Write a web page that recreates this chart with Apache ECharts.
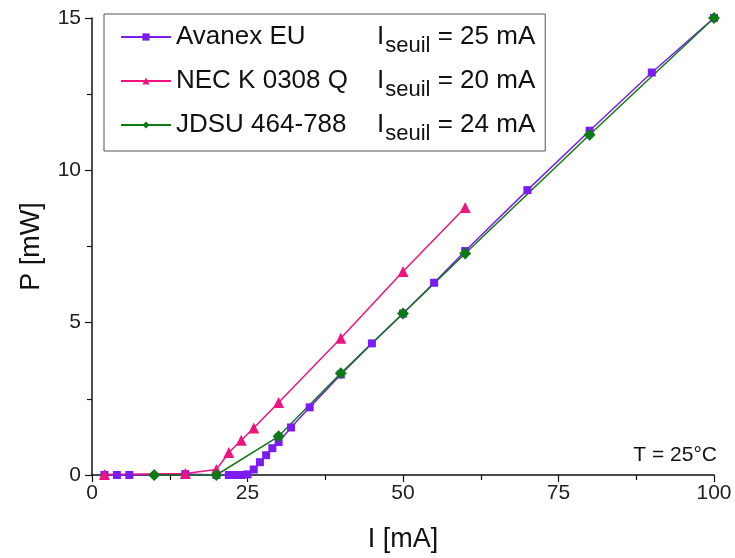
<!DOCTYPE html>
<html>
<head>
<meta charset="utf-8">
<script src="https://cdn.jsdelivr.net/npm/echarts@6/dist/echarts.min.js"></script>
<style>
html,body{margin:0;padding:0;background:#fff;}
#c{width:735px;height:558px;}
</style>
</head>
<body>
<div id="c"></div>
<script>
// ---- data ----
const xTicks = [0, 25, 50, 75, 100];
const yTicks = [0, 5, 10, 15];

const avanexName = "Avanex EU";
const avanexSeuil = "25 mA";
const avanexI = [2, 4, 6, 15, 20, 22, 23, 24, 25, 26, 27, 28, 29, 30, 32, 35, 40, 45, 50, 55, 60, 70, 80, 90, 100];
const avanexP = [0, 0, 0, 0.03, 0, 0, 0, 0, 0.02, 0.18, 0.42, 0.65, 0.88, 1.08, 1.56, 2.22, 3.30, 4.32, 5.30, 6.31, 7.35, 9.35, 11.30, 13.21, 15.00];

const necName = "NEC K 0308 Q";
const necSeuil = "20 mA";
const necI = [2, 15, 20, 22, 24, 26, 30, 40, 50, 60];
const necP = [0.02, 0.05, 0.18, 0.74, 1.14, 1.54, 2.38, 4.49, 6.68, 8.78];

const jdsuName = "JDSU 464-788";
const jdsuSeuil = "24 mA";
const jdsuI = [10, 20, 30, 40, 50, 60, 80, 100];
const jdsuP = [0, 0, 1.27, 3.34, 5.30, 7.27, 11.17, 15.00];

const tempLabel = "T = 25°C";
const xName = "I [mA]";
const yName = "P [mW]";

// ---- chart ----
const FONT = "Liberation Sans, Arial, sans-serif";
const pairs = (xs, ys) => xs.map((x, i) => [x, ys[i]]);
const seuilMap = {};
seuilMap[avanexName] = avanexSeuil;
seuilMap[necName] = necSeuil;
seuilMap[jdsuName] = jdsuSeuil;

const chart = echarts.init(document.getElementById('c'), null, {renderer: 'canvas'});

function mkSeries(name, xs, ys, color, symbol, size) {
  return {
    name: name,
    type: 'line',
    data: pairs(xs, ys),
    symbol: symbol,
    symbolSize: size,
    showSymbol: true,
    lineStyle: {color: color, width: 1.5},
    itemStyle: {color: color},
    emphasis: {disabled: true},
    animation: false,
    z: 3
  };
}

const option = {
  animation: false,
  textStyle: {fontFamily: FONT},
  grid: {left: 92, right: 21, top: 18, bottom: 82, containLabel: false},
  xAxis: {
    type: 'value', min: xTicks[0], max: xTicks[xTicks.length - 1], interval: 25,
    name: xName, nameLocation: 'middle', nameGap: 51,
    nameTextStyle: {fontSize: 27, color: '#111', fontFamily: FONT},
    axisLine: {show: true, onZero: false, lineStyle: {color: '#111', width: 1.5}},
    axisTick: {show: true, inside: false, length: 7, lineStyle: {color: '#111', width: 1.2}},
    minorTick: {show: true, splitNumber: 2, length: 5, lineStyle: {color: '#111', width: 1.2}},
    axisLabel: {fontSize: 21, color: '#222', margin: 8, fontFamily: FONT},
    splitLine: {show: false}
  },
  yAxis: {
    type: 'value', min: yTicks[0], max: yTicks[yTicks.length - 1], interval: 5,
    name: yName, nameLocation: 'middle', nameGap: 47,
    nameTextStyle: {fontSize: 27, color: '#111', fontFamily: FONT},
    axisLine: {show: true, onZero: false, lineStyle: {color: '#111', width: 1.5}},
    axisTick: {show: true, inside: false, length: 7, lineStyle: {color: '#111', width: 1.2}},
    minorTick: {show: true, splitNumber: 2, length: 5, lineStyle: {color: '#111', width: 1.2}},
    axisLabel: {fontSize: 21, color: '#222', margin: 11, fontFamily: FONT},
    splitLine: {show: false}
  },
  legend: {
    orient: 'vertical',
    left: 104, top: 14,
    padding: [10, 10, 6, 16],
    itemGap: 11,
    itemWidth: 50,
    itemHeight: 9,
    borderColor: '#555', borderWidth: 1,
    backgroundColor: '#fff',
    selectedMode: false,
    data: [avanexName, necName, jdsuName],
    formatter: function (name) {
      return '{n|' + name + '}{i|I}{s|seuil}{e| = ' + seuilMap[name] + '}';
    },
    textStyle: {
      fontFamily: FONT, color: '#111', fontSize: 26,
      rich: {
        n: {fontSize: 26, width: 201, lineHeight: 40, verticalAlign: 'middle', fontFamily: FONT, color: '#111'},
        i: {fontSize: 26, lineHeight: 40, verticalAlign: 'middle', fontFamily: FONT, color: '#111'},
        s: {fontSize: 22, lineHeight: 15, verticalAlign: 'bottom', fontFamily: FONT, color: '#111', padding: [0, 0, 0, 1]},
        e: {fontSize: 26, lineHeight: 40, verticalAlign: 'middle', fontFamily: FONT, color: '#111'}
      }
    }
  },
  graphic: [{
    type: 'text', right: 18, top: 445,
    style: {text: tempLabel, font: '21px ' + FONT, fill: '#111'}
  }],
  series: [
    mkSeries(avanexName, avanexI, avanexP, '#7a1cf0', 'rect', 8),
    mkSeries(necName, necI, necP, '#ee1480', 'triangle', 11),
    mkSeries(jdsuName, jdsuI, jdsuP, '#0d7a14', 'diamond', 12)
  ]
};
chart.setOption(option);
</script>
</body>
</html>
